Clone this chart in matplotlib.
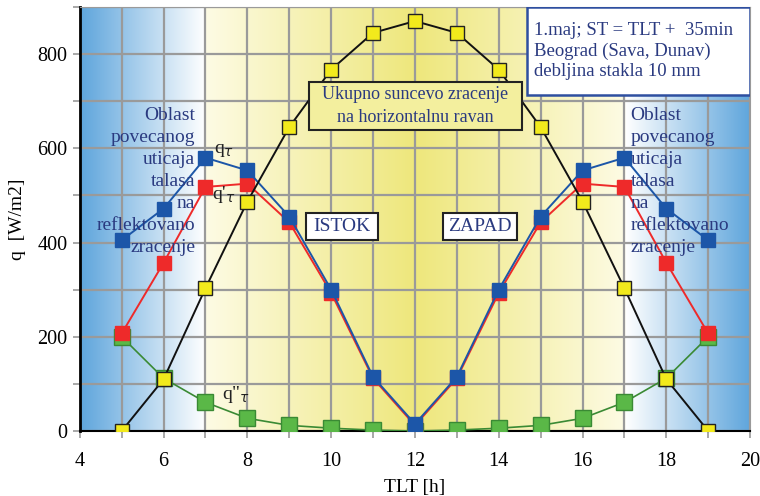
import numpy as np
import matplotlib
matplotlib.use('Agg')
import matplotlib.pyplot as plt
from matplotlib.colors import to_rgb
from matplotlib.patches import Rectangle

plt.rcParams['font.family'] = ['Liberation Serif', 'DejaVu Serif']

tlt = [5, 6, 7, 8, 9, 10, 11, 12, 13, 14, 15, 16, 17, 18, 19]
q_total = [0, 110, 303, 487, 645, 767, 845, 870, 845, 767, 645, 487, 303, 110, 0]
q_tau = [405, 472, 580, 553, 455, 300, 115, 15, 115, 300, 455, 553, 580, 472, 405]
q1_tau = [207, 357, 518, 525, 443, 293, 112, 12, 112, 293, 443, 525, 518, 357, 207]
q2_tau = [200, 112, 61, 27, 12, 6, 2, 0, 2, 6, 12, 27, 61, 112, 200]

xticks = [4, 6, 8, 10, 12, 14, 16, 18, 20]
yticks = [0, 200, 400, 600, 800]

fig = plt.figure(figsize=(7.6, 4.96), dpi=100)
ax = fig.add_axes([0.105, 0.131, 0.882, 0.855])
ax.set_xlim(4, 20)
ax.set_ylim(0, 900)

# background gradient: blue - white | cream - yellow - cream | white - blue
stops = [(4.0, '#5ea5dc'), (6.99, '#ffffff'), (7.0, '#fdfbe4'), (12.0, '#eee77c'),
         (17.0, '#fdfbe4'), (17.01, '#ffffff'), (20.0, '#5ea5dc')]
xs = np.linspace(4, 20, 1601)
sx = [s[0] for s in stops]
cols = np.array([to_rgb(s[1]) for s in stops])
img = np.stack([np.interp(xs, sx, cols[:, i]) for i in range(3)], axis=-1)[None, :, :]
ax.imshow(img, extent=[4, 20, 0, 900], aspect='auto', zorder=0, interpolation='bilinear')

ax.set_xticks(range(4, 21), minor=True)
ax.set_yticks(range(0, 901, 100), minor=True)
ax.set_xticks(xticks)
ax.set_yticks(yticks)
ax.grid(True, which='both', color='#9a9a9a', lw=1.6, zorder=1)
ax.tick_params(which='both', direction='out', color='#9a9a9a', length=5, width=1.2,
               labelsize=14.5, pad=4)
ax.tick_params(axis='x', pad=10)
for s in ['top', 'right']:
    ax.spines[s].set_color('#9a9a9a')
ax.spines['left'].set_linewidth(2)
ax.spines['bottom'].set_linewidth(1.5)

ax.plot(tlt, q2_tau, '-s', color='#3a8a34', lw=1.2, ms=11, mfc='#5ab847', mec='#3a8a34', mew=1, zorder=3)
ax.plot(tlt, q1_tau, '-s', color='#ee2a2a', lw=1.4, ms=10, mfc='#ee2a2a', mec='#ee2a2a', zorder=4)
ax.plot(tlt, q_tau, '-s', color='#1c56a8', lw=1.4, ms=10, mfc='#1c56a8', mec='#1c56a8', zorder=5)
ax.plot(tlt, q_total, '-s', color='#111111', lw=1.4, ms=9.5, mfc='#f2ea1c', mec='#222222', mew=1, zorder=6)

ax.set_xlabel('TLT [h]', fontsize=14, labelpad=6)
ax.set_ylabel('q  [W/m2]', fontsize=14, labelpad=8)

tc = '#2a3a80'
oblast = 'Oblast\npovecanog\nuticaja\ntalasa\nna\nreflektovano\nzracenje'
ax.text(6.75, 530, oblast, ha='right', va='center', fontsize=14, color=tc,
        linespacing=1.39, zorder=7)
ax.text(17.15, 530, oblast, ha='left', va='center', fontsize=14, color=tc,
        linespacing=1.39, zorder=7)

# info box in the top right corner
ax.add_patch(Rectangle((0.667, 0.792), 0.333, 0.208, transform=ax.transAxes,
                       fc='white', ec='#2e4fa0', lw=1.8, zorder=8))
ax.text(0.677, 0.896, '1.maj; ST = TLT +  35min\nBeograd (Sava, Dunav)\ndebljina stakla 10 mm',
        transform=ax.transAxes, ha='left', va='center', fontsize=13.5, color=tc,
        linespacing=1.25, zorder=9)

ax.add_patch(Rectangle((9.47, 638), 5.08, 102, fc='#f3ef9e', ec='#222222', lw=1.5, zorder=8))
ax.text(12.0, 689, 'Ukupno suncevo zracenje\nna horizontalnu ravan', ha='center', va='center',
        fontsize=13, color=tc, linespacing=1.45, zorder=9)

ax.add_patch(Rectangle((9.39, 405), 1.72, 57, fc='white', ec='#222222', lw=1.5, zorder=8))
ax.text(10.25, 433, 'ISTOK', ha='center', va='center', fontsize=14, color=tc, zorder=9)
ax.add_patch(Rectangle((12.66, 405), 1.77, 57, fc='white', ec='#222222', lw=1.5, zorder=8))
ax.text(13.545, 433, 'ZAPAD', ha='center', va='center', fontsize=14, color=tc, zorder=9)

ax.text(7.2, 590, r'q$_\tau$', fontsize=14, color='#222222', zorder=8)
ax.text(7.15, 492, r"q'$_\tau$", fontsize=14, color='#222222', zorder=8)
ax.text(7.4, 68, r'q"$_\tau$', fontsize=14, color='#222222', zorder=8)

fig.savefig('out.png', dpi=100)
